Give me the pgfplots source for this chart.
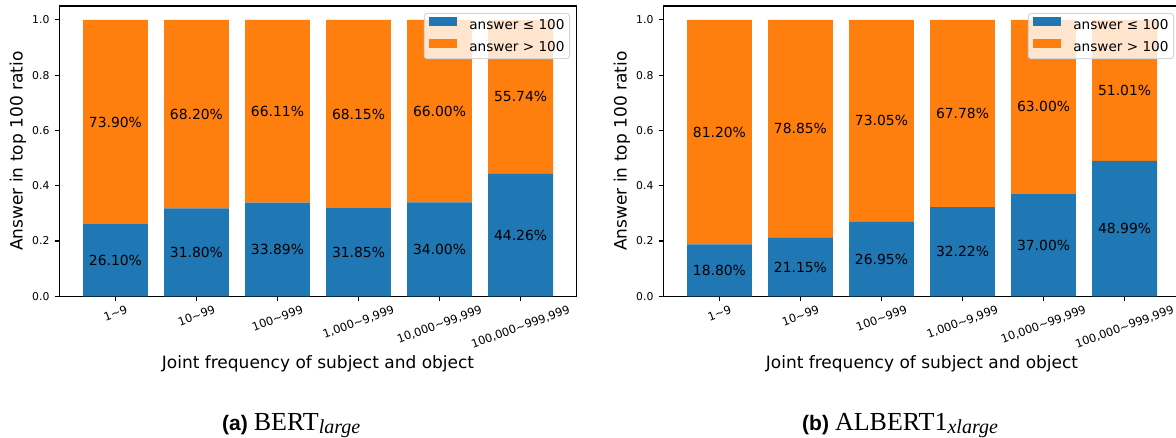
\documentclass[border=0pt]{standalone}
\usepackage{fontspec}
\setmainfont{DejaVu Sans}
\newfontfamily\capsans{Liberation Sans}
\newfontfamily\capserif{Liberation Serif}
\usepackage{graphicx}
\usepackage{pgfplots}
\pgfplotsset{compat=1.18}
\definecolor{tabblue}{HTML}{1F77B4}
\definecolor{taborange}{HTML}{FF7F0E}
\definecolor{legframe}{HTML}{D6D6D6}
\newcommand{\fs}[1]{\fontsize{#1}{#1}\selectfont}
\newcommand{\tl}[1]{\rotatebox{20}{#1}}

\pgfplotsset{
  geom/.style={width=517pt, height=290.3pt, scale only axis,
    xmin=-0.69, xmax=5.69, ymin=0, ymax=1.05},
  mybar/.style={
    geom,
    ybar stacked, bar width=0.8,
    xtick={0,1,2,3,4,5},
    xticklabels={\tl{1\textasciitilde 9},\tl{10\textasciitilde 99},\tl{100\textasciitilde 999},\tl{1,000\textasciitilde 9,999},\tl{10,000\textasciitilde 99,999},\tl{100,000\textasciitilde 999,999}},
    ytick={0,0.2,0.4,0.6,0.8,1.0},
    /pgf/number format/assume math mode=true,
    yticklabel style={/pgf/number format/fixed, /pgf/number format/fixed zerofill, /pgf/number format/precision=1, anchor=east, inner sep=0pt, xshift=-5pt, font=\fs{10.8}},
    xticklabel style={anchor=north, inner sep=0pt, yshift=-3.5pt, font=\fs{11.4}},
    tick align=outside, major tick length=4.9pt,
    xtick pos=bottom, ytick pos=left,
    tick style={black, line width=1.1pt},
    axis line style={black, line width=1.1pt},
    xlabel={Joint frequency of subject and object},
    ylabel={Answer in top 100 ratio},
    xlabel style={at={(axis description cs:0.5,0)}, anchor=base, yshift=-71.7pt, inner sep=0pt, font=\fs{17}},
    ylabel style={at={([xshift=-41.5pt]axis description cs:0,0.5)}, anchor=center, inner sep=0pt, font=\fs{17}},
    legend style={at={(rel axis cs:1,1)}, anchor=north east, xshift=-6.5pt, yshift=-7pt,
      draw=legframe, line width=1pt, fill=white, fill opacity=0.8, text opacity=1,
      rounded corners=2.8pt, inner xsep=5pt, inner ysep=4pt, row sep=6pt, font=\fs{13.6},
      nodes={inner sep=0pt, text height=9.5pt, text depth=3.5pt},
      /tikz/every odd column/.append style={column sep=12pt}},
    legend image code/.code={\fill[#1, fill opacity=1, sharp corners] (0pt,0.4pt) rectangle (28pt,9.1pt);},
    legend cell align=left,
  },
  labax/.style={geom, axis lines=none, clip=false},
  lab/.style={only marks, mark=none,
    nodes near coords, point meta=explicit symbolic,
    every node near coord/.append style={anchor=center, font=\fs{13.9}, text=black, inner sep=0pt}},
}

\begin{document}
\begin{tikzpicture}
\path[use as bounding box] (0,0) rectangle (1176pt,437pt);

% (a) BERT large
\begin{axis}[mybar, at={(59.5pt,140.7pt)}, anchor=south west]
\addplot[fill=tabblue, draw=none] coordinates {(0,0.2610) (1,0.3180) (2,0.3389) (3,0.3185) (4,0.3400) (5,0.4426)};
\addlegendentry{answer ≤ 100}
\addplot[fill=taborange, draw=none] coordinates {(0,0.7390) (1,0.6820) (2,0.6611) (3,0.6815) (4,0.6600) (5,0.5574)};
\addlegendentry{answer > 100}
\end{axis}
\begin{axis}[labax, at={(59.5pt,140.7pt)}, anchor=south west]
\addplot[lab] table[x=x, y=y, meta=t] {
x y t
0 0.1305 26.10\%
1 0.1590 31.80\%
2 0.16945 33.89\%
3 0.15925 31.85\%
4 0.1700 34.00\%
5 0.2213 44.26\%
0 0.6305 73.90\%
1 0.6590 68.20\%
2 0.66945 66.11\%
3 0.65925 68.15\%
4 0.6700 66.00\%
5 0.7213 55.74\%
};
\end{axis}

% (b) ALBERT1 xlarge
\begin{axis}[mybar, at={(663.5pt,140.7pt)}, anchor=south west]
\addplot[fill=tabblue, draw=none] coordinates {(0,0.1880) (1,0.2115) (2,0.2695) (3,0.3222) (4,0.3700) (5,0.4899)};
\addlegendentry{answer ≤ 100}
\addplot[fill=taborange, draw=none] coordinates {(0,0.8120) (1,0.7885) (2,0.7305) (3,0.6778) (4,0.6300) (5,0.5101)};
\addlegendentry{answer > 100}
\end{axis}
\begin{axis}[labax, at={(663.5pt,140.7pt)}, anchor=south west]
\addplot[lab] table[x=x, y=y, meta=t] {
x y t
0 0.0940 18.80\%
1 0.10575 21.15\%
2 0.13475 26.95\%
3 0.1611 32.22\%
4 0.1850 37.00\%
5 0.24495 48.99\%
0 0.5940 81.20\%
1 0.60575 78.85\%
2 0.63475 73.05\%
3 0.6611 67.78\%
4 0.6850 63.00\%
5 0.74495 51.01\%
};
\end{axis}

\node[anchor=base west, inner sep=0pt] at (222pt,7pt) {{\capsans\bfseries\fs{21}(a)}\hspace{6pt}{\capserif\fs{26}BERT}\raisebox{-3pt}{\capserif\itshape\fs{20}large}};
\node[anchor=base west, inner sep=0pt] at (802pt,7pt) {{\capsans\bfseries\fs{21}(b)}\hspace{6pt}{\capserif\fs{26}ALBERT1}\raisebox{-3pt}{\capserif\itshape\fs{20}xlarge}};
\end{tikzpicture}
\end{document}
